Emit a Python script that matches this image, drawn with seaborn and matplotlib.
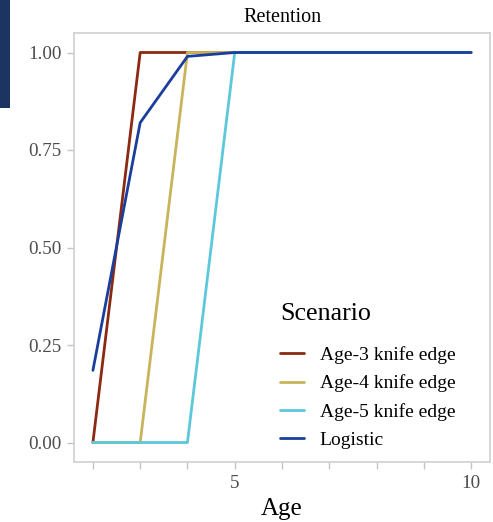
import matplotlib
matplotlib.use("Agg")
import matplotlib.pyplot as plt
import seaborn as sns
import pandas as pd
from matplotlib.patches import Rectangle

# Retention-at-age curves for each selectivity scenario
ages = [2, 3, 4, 5, 6, 7, 8, 9, 10]
age3_knife = [0, 1, 1, 1, 1, 1, 1, 1, 1]
age4_knife = [0, 0, 1, 1, 1, 1, 1, 1, 1]
age5_knife = [0, 0, 0, 1, 1, 1, 1, 1, 1]
logistic = [0.185, 0.82, 0.99, 1.0, 1.0, 1.0, 1.0, 1.0, 1.0]

scenarios = ["Age-3 knife edge", "Age-4 knife edge", "Age-5 knife edge", "Logistic"]
colors = ["#8B2A12", "#C8B45A", "#5CC8DA", "#1A3E9C"]

y_ticks = [0.0, 0.25, 0.5, 0.75, 1.0]
y_tick_labels = ["0.00", "0.25", "0.50", "0.75", "1.00"]
x_ticks = [2, 3, 4, 5, 6, 7, 8, 9, 10]
x_tick_labels = ["", "", "", "5", "", "", "", "", "10"]

df = pd.concat([
    pd.DataFrame({"Age": ages, "Retention": vals, "Scenario": name})
    for name, vals in zip(scenarios, [age3_knife, age4_knife, age5_knife, logistic])
], ignore_index=True)

sns.set_theme(style="white")
plt.rcParams["font.family"] = ["Liberation Serif", "DejaVu Serif"]

fig = plt.figure(figsize=(4.93, 5.22), dpi=100)
ax = fig.add_axes([74 / 493, 1 - 462 / 522, 416 / 493, 429 / 522])

sns.lineplot(data=df, x="Age", y="Retention", hue="Scenario", hue_order=scenarios,
             palette=colors, linewidth=2.0, ax=ax)

ax.set_xlim(1.6, 10.4)
ax.set_ylim(-0.05, 1.05)
ax.set_xticks(x_ticks)
ax.set_xticklabels(x_tick_labels)
ax.set_yticks(y_ticks)
ax.set_yticklabels(y_tick_labels)
ax.tick_params(axis="both", which="major", direction="out", length=5, width=1,
               color="#C4C4C4", labelcolor="#4D4D4D", labelsize=13.8, pad=4,
               bottom=True, left=True)

for sp in ax.spines.values():
    sp.set_color("#D0D0D0")
    sp.set_linewidth(1.2)

ax.set_ylabel("")
ax.set_xlabel("Age", fontsize=18, color="black", labelpad=5)
ax.set_title("Retention", fontsize=14.5, color="black", pad=8)

leg = ax.legend(title="Scenario", loc="lower left", bbox_to_anchor=(0.453, -0.011),
                frameon=False, fontsize=14, title_fontsize=18.7,
                handlelength=1.25, handletextpad=0.8, labelspacing=0.55)
leg._legend_box.align = "left"
leg._legend_box.sep = 15
for t in leg.get_texts():
    t.set_color("black")
leg.get_title().set_color("black")

# Dark navy tab along the upper-left edge
fig.patches.append(Rectangle((0, 1 - 108 / 522), 10 / 493, 108 / 522,
                             transform=fig.transFigure, facecolor="#1C3462",
                             edgecolor="none", zorder=5))

fig.savefig("out.png", dpi=100)
